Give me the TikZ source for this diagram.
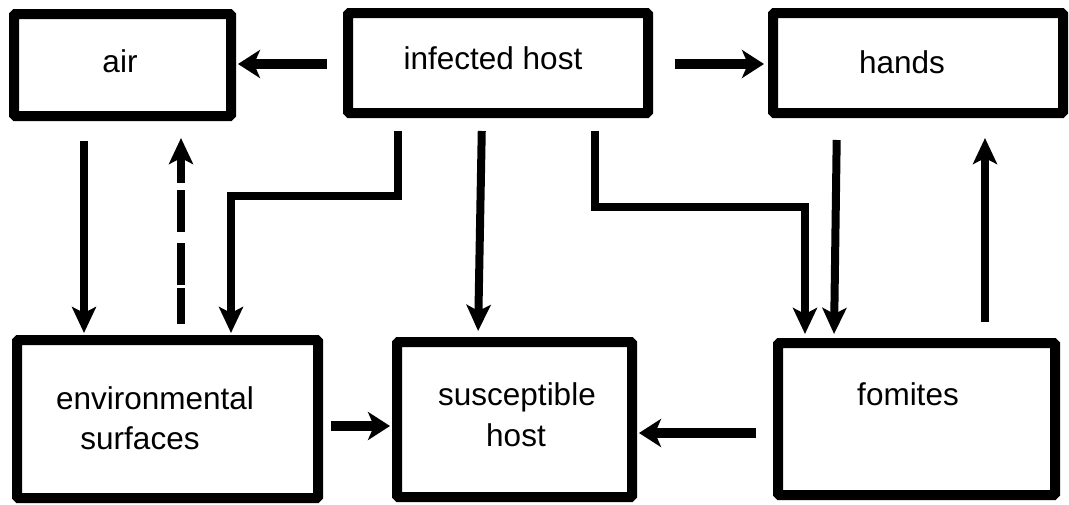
\documentclass[tikz,border=0pt]{standalone}
\usepackage{fontspec}
\setmainfont{Liberation Sans}
\usetikzlibrary{arrows.meta,calc}
\begin{document}
\begin{tikzpicture}[x=1pt,y=-1pt,
  box/.style={draw,line width=10pt,inner sep=0pt,rounded corners=1.5pt},
  lbl/.style={anchor=base,inner sep=0pt,font=\fontsize{31.5}{38}\selectfont},
  arrv/.style={line width=8pt,-{Stealth[length=26pt,width=24pt,inset=6pt]}},
  arrh/.style={line width=10pt,-{Stealth[length=22pt,width=28pt,inset=6pt]}},
  brokenline/.style={dash pattern=on 36pt off 3pt on 42pt off 11pt on 42pt off 7pt on 300pt}]
\useasboundingbox (0,0) rectangle (1069,504);
% boxes
\node[box,minimum width=217pt,minimum height=102pt] (air) at (122.5,65) {};
\node[box,minimum width=300pt,minimum height=100pt] (infected) at (498,63) {};
\node[box,minimum width=290pt,minimum height=100pt] (hands) at (918,63) {};
\node[box,minimum width=301pt,minimum height=158pt] (env) at (167.5,419) {};
\node[box,minimum width=235pt,minimum height=155pt] (susc) at (514.5,419.5) {};
\node[box,minimum width=277pt,minimum height=152pt] (fom) at (916.5,419) {};
% labels
\node[lbl] (tair) at (120,72) {air};
\node[lbl] (tinf) at (493,69) {infected host};
\node[lbl] (thands) at (902,73) {hands};
\node[lbl] (tenv1) at (155,409) {environmental};
\node[lbl] (tenv2) at (140,449) {surfaces};
\node[lbl] (tsus1) at (517,405) {susceptible};
\node[lbl] (tsus2) at (516,446) {host};
\node[lbl] (tfom) at (908,405) {fomites};
% bend points
\coordinate (bendL) at (231,196);
\coordinate (bendR) at (805,207);
% connectors
\draw[arrh,shorten <=16pt,shorten >=2pt] (infected.west |- 0,64) -- (air.east |- 0,64);
\draw[arrh,shorten <=22pt,shorten >=4pt] (infected.east |- 0,64) -- (hands.west |- 0,64);
\draw[arrv,shorten <=20pt,shorten >=2pt] (air.south -| 84,0) -- (env.north -| 84,0);
\draw[arrv,brokenline,shorten <=11pt,shorten >=17pt] (env.north -| 181,0) -- (air.south -| 181,0);
\draw[arrv,shorten <=13pt,shorten >=2pt] (infected.south -| 398,0) |- (bendL) -- (env.north -| bendL);
\draw[arrv,shorten <=13pt,shorten >=6pt] (infected.south -| 482,0) -- (susc.north -| 478,0);
\draw[arrv,shorten <=13pt,shorten >=4pt] (infected.south -| 595,0) |- (bendR) -- (fom.north -| bendR);
\draw[arrv,shorten <=22pt,shorten >=4pt] (hands.south -| 837,0) -- (fom.north -| 834,0);
\draw[arrv,shorten <=16pt,shorten >=20pt] (fom.north -| 985,0) -- (hands.south -| 985,0);
\draw[arrh,shorten <=8pt,shorten >=2pt] (env.east |- 0,426) -- (susc.west |- 0,426);
\draw[arrh,shorten <=17pt,shorten >=2pt] (fom.west |- 0,433) -- (susc.east |- 0,433);
\end{tikzpicture}
\end{document}
